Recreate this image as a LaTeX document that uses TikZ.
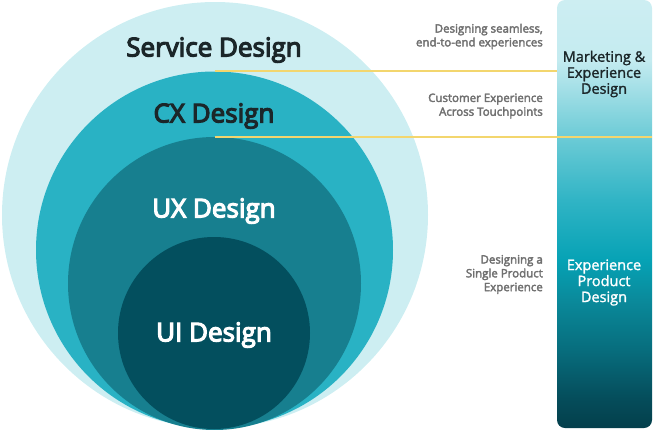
\documentclass[tikz,border=0pt]{standalone}
\usepackage{fontspec}
\setmainfont{Open Sans}
\newfontfamily\semib{Open Sans}[FakeBold=4.5]
\newfontfamily\sideb{Open Sans}[FakeBold=3]
\newfontfamily\medw{Open Sans}[FakeBold=1.5]
\definecolor{cServ}{HTML}{CDEEF2}
\definecolor{cCX}{HTML}{29B2C4}
\definecolor{cUX}{HTML}{177F8F}
\definecolor{cUI}{HTML}{034F5E}
\definecolor{cLine}{HTML}{F3D66E}
\definecolor{cDark}{HTML}{1B2629}
\definecolor{cGray}{HTML}{707070}
\definecolor{g1}{HTML}{C4EBF0}
\definecolor{g2}{HTML}{6CCBD6}
\definecolor{g3}{HTML}{30B4C5}
\definecolor{g4}{HTML}{06A2B5}
\definecolor{g5}{HTML}{0A8A9B}
\definecolor{g6}{HTML}{076D7D}
\definecolor{g7}{HTML}{054C5A}
\definecolor{g8}{HTML}{043F4B}
\pgfdeclareverticalshading{barshade}{100bp}{%
  color(0bp)=(g8); color(25bp)=(g8); color(28.3bp)=(g7);
  color(34.1bp)=(g6); color(40bp)=(g5); color(44.6bp)=(g4);
  color(51.6bp)=(g3); color(59bp)=(g2); color(68bp)=(g1);
  color(75bp)=(cServ); color(100bp)=(cServ)}
\tikzset{
  ring/.style={circle, inner sep=0pt, draw=none},
  title/.style={font=\semib\fontsize{26}{29}\selectfont, inner sep=0pt},
  side/.style={font=\sideb\fontsize{11.5}{13.8}\selectfont, text=cGray, align=right, anchor=east, inner sep=0pt},
  barlabel/.style={font=\medw\fontsize{14.5}{16}\selectfont, align=center, inner sep=0pt},
  guide/.style={draw=cLine, line width=1.8pt}
}
\begin{document}
\begin{tikzpicture}[x=1pt, y=-1pt]
\useasboundingbox (0,0) rectangle (654,429);
\node[ring, fill=cServ, minimum size=426pt] (serv) at (215,215) {};
\node[ring, fill=cCX, minimum size=357pt] (cx) at (214.5,250) {};
\node[ring, fill=cUX, minimum size=293pt] (ux) at (214.5,283.5) {};
\node[ring, fill=cUI, minimum size=192pt] (ui) at (214,333) {};
\node[title, text=cDark] (tserv) at (214,50) {Service Design};
\node[title, text=cDark] (tcx) at (214,116) {CX Design};
\node[title, text=white] (tux) at (214,211) {UX Design};
\node[title, text=white] (tui) at (214,335) {UI Design};
\node[shading=barshade, rounded corners=8pt, minimum width=95pt, minimum height=428pt, inner sep=0pt] (bar) at (604.5,214) {};
\draw[guide] (cx.north) -- (cx.north -| bar.west);
\draw[guide] (ux.north) -- (ux.north -| bar.east);
\node[side] (s1) at (543,36.5) {Designing seamless,\\end-to-end experiences};
\node[side] (s2) at (543,106) {Customer Experience\\Across Touchpoints};
\node[side] (s3) at (543,274.5) {Designing a\\Single Product\\Experience};
\node[barlabel, text=cDark] (b1) at (604,74) {Marketing \&\\Experience\\Design};
\node[barlabel, text=white] (b2) at (604,282.5) {Experience\\Product\\Design};
\end{tikzpicture}
\end{document}
